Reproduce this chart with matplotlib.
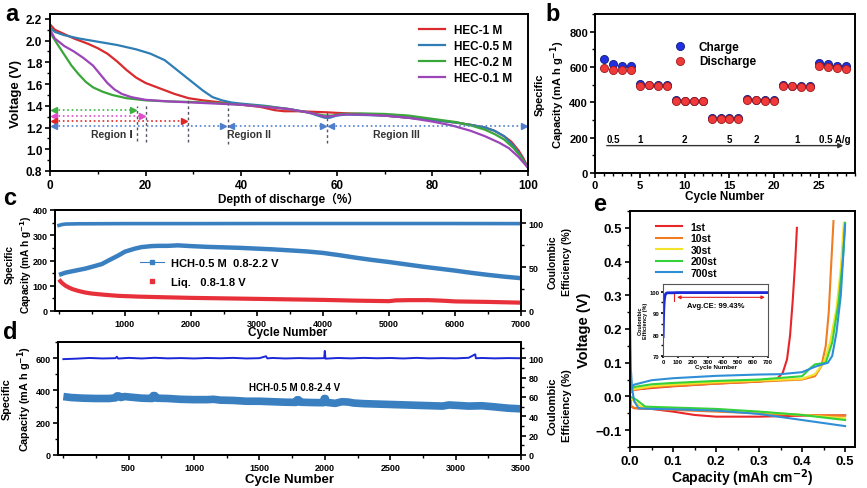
import matplotlib
matplotlib.use("Agg")
import matplotlib.pyplot as plt
from matplotlib.ticker import MultipleLocator

plt.rcParams['font.family'] = ['Liberation Sans', 'DejaVu Sans', 'Noto Sans CJK SC']
plt.rcParams['font.weight'] = 'bold'
plt.rcParams['axes.labelweight'] = 'bold'
plt.rcParams['mathtext.default'] = 'bf'
plt.rcParams['axes.linewidth'] = 1.4
plt.rcParams['xtick.major.width'] = 1.2
plt.rcParams['ytick.major.width'] = 1.2
plt.rcParams['xtick.minor.width'] = 1.0
plt.rcParams['ytick.minor.width'] = 1.0
plt.rcParams['xtick.major.size'] = 3.5
plt.rcParams['ytick.major.size'] = 3.5
plt.rcParams['xtick.minor.size'] = 2
plt.rcParams['ytick.minor.size'] = 2

# ---------------- data: panel a ----------------
a_series = ['HEC-1 M', 'HEC-0.5 M', 'HEC-0.2 M', 'HEC-0.1 M']
a1_x = [0, 1, 3, 5, 8, 10, 12, 14, 16, 18, 20, 23, 26, 29, 32, 36, 40, 44, 47, 49, 52, 55, 58, 60, 65, 70, 75, 80, 85, 88, 91, 93, 95, 96.5, 98, 99, 100]
a1_y = [2.15, 2.1, 2.06, 2.02, 1.97, 1.93, 1.88, 1.81, 1.73, 1.66, 1.61, 1.56, 1.51, 1.47, 1.45, 1.43, 1.41, 1.39, 1.36, 1.35, 1.35, 1.345, 1.34, 1.335, 1.325, 1.31, 1.29, 1.27, 1.245, 1.225, 1.2, 1.17, 1.12, 1.07, 0.99, 0.92, 0.83]
a2_x = [0, 1, 3, 6, 10, 14, 18, 21, 24, 26, 28, 30, 32, 34, 36, 38, 40, 45, 50, 54, 56, 57.5, 58.5, 60, 62, 70, 75, 80, 85, 88, 91, 93, 95, 97, 98.5, 100]
a2_y = [2.12, 2.08, 2.05, 2.02, 1.99, 1.96, 1.92, 1.88, 1.82, 1.75, 1.68, 1.61, 1.54, 1.48, 1.45, 1.43, 1.42, 1.40, 1.37, 1.34, 1.31, 1.29, 1.29, 1.31, 1.32, 1.31, 1.29, 1.27, 1.245, 1.225, 1.2, 1.17, 1.12, 1.03, 0.94, 0.83]
a3_x = [0, 0.5, 1.5, 3, 4.5, 6, 7.5, 9, 11, 13, 16, 20, 25, 30, 35, 40, 45, 50, 55, 57.5, 59, 61, 65, 70, 75, 80, 85, 88, 91, 93, 95, 97, 98.5, 100]
a3_y = [2.08, 2.04, 1.97, 1.87, 1.77, 1.69, 1.62, 1.57, 1.53, 1.5, 1.47, 1.45, 1.44, 1.435, 1.425, 1.41, 1.395, 1.37, 1.33, 1.31, 1.31, 1.325, 1.33, 1.325, 1.31, 1.28, 1.25, 1.22, 1.18, 1.14, 1.09, 1.01, 0.93, 0.83]
a4_x = [0, 1, 3, 5, 7, 9, 10.5, 12, 13.5, 15, 17, 20, 25, 30, 35, 40, 45, 50, 55, 57.5, 59, 61, 65, 70, 75, 80, 84, 88, 91, 94, 96, 98, 100]
a4_y = [2.1, 2.02, 1.95, 1.9, 1.84, 1.77, 1.69, 1.61, 1.55, 1.51, 1.48, 1.455, 1.44, 1.43, 1.42, 1.41, 1.39, 1.37, 1.33, 1.3, 1.305, 1.32, 1.32, 1.31, 1.29, 1.255, 1.22, 1.17, 1.12, 1.06, 1.01, 0.93, 0.83]
a_colors = ['#d92a2e', '#2e7eb5', '#3aa63a', '#9b45b8']
region_bounds = [37, 58]
region_labels = ['Region Ⅰ', 'Region II', 'Region III']

# ---------------- data: panel b ----------------
b_cycle = list(range(1, 29))
b_charge = [645, 618, 605, 603, 503, 500, 498, 497, 415, 410, 410, 410, 310, 310, 312, 312,
            420, 416, 412, 412, 500, 495, 492, 490, 620, 615, 608, 605]
b_discharge = [597, 585, 582, 583, 495, 497, 495, 495, 407, 405, 405, 407, 305, 307, 308, 308,
               415, 413, 410, 410, 493, 490, 488, 487, 607, 600, 595, 590]
b_rates = ['0.5', '1', '2', '5', '2', '1', '0.5 A/g']
b_rate_x = [2, 5, 10, 15, 18, 22.5, 26.8]

# ---------------- data: panel c ----------------
c_hch_x = [1, 100, 250, 400, 500, 650, 750, 900, 1000, 1150, 1250, 1400, 1500, 1650, 1800, 2000, 2250, 2500, 2750, 3000, 3250, 3500, 3750, 4000, 4250, 4500, 4750, 5000, 5250, 5500, 5750, 6000, 6250, 6500, 6750, 7000]
c_hch_y = [143, 152, 160, 168, 175, 186, 200, 220, 235, 247, 253, 257, 258, 258, 260, 257, 254, 252, 250, 247, 244, 240, 236, 230, 221, 211, 202, 194, 185, 176, 168, 160, 151, 143, 136, 130]
c_liq_x = [1, 30, 60, 100, 150, 200, 300, 400, 500, 700, 900, 1200, 1500, 2000, 2500, 3000, 3500, 4000, 4500, 5000, 5100, 5300, 5600, 5800, 6000, 6500, 7000]
c_liq_y = [125, 115, 108, 100, 93, 87, 79, 73, 69, 64, 60, 57, 55, 52, 50, 48, 46, 44, 41, 39, 42, 43, 43, 41, 38, 36, 33]
c_ce_x = [1, 50, 100, 300, 1000, 2000, 3000, 4000, 5000, 6000, 7000]
c_ce_y = [97.5, 98.5, 99.0, 99.3, 99.5, 99.5, 99.6, 99.6, 99.6, 99.6, 99.5]

# ---------------- data: panel d ----------------
d_cap_x = [1, 60, 150, 250, 350, 400, 410, 425, 440, 470, 520, 600, 680, 688, 700, 712, 800, 900, 1000, 1100, 1150, 1200, 1300, 1400, 1500, 1600, 1700, 1780, 1788, 1800, 1812, 1900, 1990, 1996, 2004, 2012, 2080, 2130, 2180, 2220, 2300, 2500, 2700, 2900, 2950, 3100, 3200, 3300, 3400, 3500]
d_cap_y = [362, 356, 352, 350, 350, 354, 366, 366, 356, 362, 358, 352, 350, 368, 368, 352, 350, 345, 343, 343, 345, 340, 338, 333, 333, 330, 327, 326, 342, 342, 327, 325, 324, 350, 350, 326, 320, 330, 328, 322, 318, 313, 308, 303, 310, 303, 305, 298, 290, 286]
d_ce_x = [1, 100, 200, 300, 400, 410, 420, 500, 600, 700, 800, 900, 1000, 1100, 1200, 1300, 1400, 1500, 1550, 1560, 1600, 1700, 1800, 1900, 1995, 2000, 2005, 2100, 2200, 2300, 2400, 2500, 2600, 2700, 2800, 2900, 3000, 3100, 3150, 3155, 3200, 3300, 3400, 3500]
d_ce_y = [99.0, 99.5, 100.2, 99.7, 100.0, 101.5, 99.6, 100.3, 99.7, 100.4, 99.8, 100.1, 99.7, 100.2, 99.9, 100.3, 99.7, 100.0, 102.0, 99.8, 100.2, 99.7, 100.1, 99.8, 100.0, 107.5, 99.5, 100.2, 99.8, 100.3, 99.9, 100.2, 99.7, 100.3, 99.8, 100.1, 99.8, 100.4, 104.0, 99.9, 100.2, 99.8, 100.1, 99.9]

# ---------------- data: panel e ----------------
e_labels = ['1st', '10st', '30st', '200st', '700st']
e_colors = ['#e8262a', '#f07d22', '#f2e22a', '#33d13a', '#2f8fd6']
e_up_x = [
    [0, 0.01, 0.05, 0.1, 0.2, 0.3, 0.34, 0.355, 0.365, 0.372, 0.378, 0.384, 0.388],
    [0, 0.01, 0.05, 0.1, 0.2, 0.3, 0.4, 0.43, 0.445, 0.455, 0.462, 0.468, 0.473],
    [0, 0.01, 0.05, 0.1, 0.2, 0.3, 0.4, 0.43, 0.45, 0.465, 0.48, 0.49, 0.497],
    [0, 0.01, 0.05, 0.1, 0.2, 0.3, 0.4, 0.42, 0.43, 0.455, 0.47, 0.485, 0.495, 0.5],
    [0, 0.01, 0.05, 0.1, 0.2, 0.3, 0.35, 0.4, 0.43, 0.46, 0.47, 0.48, 0.49, 0.5],
]
e_up_y = [
    [0.012, 0.02, 0.025, 0.03, 0.038, 0.044, 0.05, 0.07, 0.11, 0.18, 0.28, 0.4, 0.5],
    [0.015, 0.02, 0.027, 0.031, 0.038, 0.044, 0.05, 0.06, 0.09, 0.15, 0.25, 0.4, 0.52],
    [0.015, 0.022, 0.03, 0.035, 0.042, 0.047, 0.052, 0.066, 0.1, 0.16, 0.26, 0.38, 0.515],
    [0.018, 0.028, 0.036, 0.04, 0.046, 0.05, 0.06, 0.085, 0.095, 0.1, 0.16, 0.28, 0.41, 0.515],
    [0.025, 0.035, 0.048, 0.054, 0.061, 0.065, 0.066, 0.072, 0.088, 0.1, 0.12, 0.19, 0.3, 0.51],
]
e_dn_x = [
    [0, 0.003, 0.01, 0.05, 0.1, 0.15, 0.2, 0.3, 0.4, 0.5],
    [0, 0.003, 0.01, 0.05, 0.1, 0.2, 0.3, 0.4, 0.5],
    [0, 0.01, 0.025, 0.05, 0.1, 0.2, 0.3, 0.4, 0.5],
    [0, 0.015, 0.035, 0.05, 0.1, 0.2, 0.3, 0.4, 0.5],
    [0, 0.002, 0.005, 0.01, 0.02, 0.05, 0.1, 0.2, 0.3, 0.4, 0.5],
]
e_dn_y = [
    [0.0, -0.03, -0.035, -0.037, -0.045, -0.055, -0.06, -0.06, -0.057, -0.056],
    [0.0, -0.03, -0.034, -0.037, -0.04, -0.045, -0.05, -0.055, -0.057],
    [0.0, -0.015, -0.03, -0.033, -0.035, -0.04, -0.046, -0.055, -0.065],
    [0.0, -0.01, -0.03, -0.031, -0.033, -0.037, -0.045, -0.055, -0.07],
    [0.22, 0.08, 0.02, -0.015, -0.035, -0.037, -0.038, -0.042, -0.052, -0.07, -0.088],
]
inset_x = [1, 3, 5, 7, 9, 12, 15, 20, 25, 30, 40, 60, 100, 200, 300, 400, 500, 600, 700]
inset_y = [79, 86, 91, 94, 96, 97.5, 98.5, 99.1, 99.3, 99.4, 99.4, 99.4, 99.5, 99.5, 99.5, 99.5, 99.5, 99.5, 99.5]

# ---------------- figure ----------------
W, H = 867, 489
fig = plt.figure(figsize=(W / 100, H / 100), dpi=100)

def ax_px(l, t, r, b):
    return fig.add_axes([l / W, 1 - b / H, (r - l) / W, (b - t) / H])

def style(ax, fs, pad=2.5):
    ax.tick_params(which='both', direction='out', labelsize=fs, top=False, right=False, pad=pad)
    for lab in ax.get_xticklabels() + ax.get_yticklabels():
        lab.set_fontweight('bold')

def vlabel(text, xc, yc, fs, ls=1.3):
    fig.text(xc / W, 1 - yc / H, text, rotation=90, ha='center', va='center',
             fontsize=fs, fontweight='bold', linespacing=ls)

CAP = 'Specific\nCapacity (mA h g$^{-1}$)'
CE = 'Coulombic\nEfficiency (%)'

# ---- panel a ----
axa = ax_px(50, 15, 528, 172)
for xs, ys, c, lab in zip([a1_x, a2_x, a3_x, a4_x], [a1_y, a2_y, a3_y, a4_y], a_colors, a_series):
    axa.plot(xs, ys, color=c, lw=1.6, label=lab)
axa.set_xlim(0, 100)
axa.set_ylim(0.8, 2.245)
axa.xaxis.set_major_locator(MultipleLocator(20))
axa.xaxis.set_minor_locator(MultipleLocator(10))
axa.yaxis.set_major_locator(MultipleLocator(0.2))
axa.yaxis.set_minor_locator(MultipleLocator(0.1))
style(axa, 8.5, pad=2)
axa.set_ylabel('Voltage (V)', fontsize=9.5, labelpad=3)
axa.set_xlabel('Depth of discharge（%）', fontsize=8.5, labelpad=1,
               family=['Liberation Sans', 'Noto Sans CJK SC'])
leg = axa.legend(loc='upper right', frameon=False, fontsize=8.5, handlelength=2.2,
                 borderaxespad=0.3, labelspacing=0.35, bbox_to_anchor=(0.985, 0.99))
for t in leg.get_texts():
    t.set_fontweight('bold')

arrow_rows = [(1.36, 18.2, '#3cb043'), (1.31, 20, '#e04ccc'), (1.26, 28.9, '#e22424')]
for yv, xe, c in arrow_rows:
    axa.plot([0.8, xe - 0.8], [yv, yv], ls=':', color=c, lw=1.2)
    axa.plot([0.8], [yv], marker='<', color=c, ms=4)
    axa.plot([xe - 0.8], [yv], marker='>', color=c, ms=4)
blue_pts = [0] + region_bounds + [100]
for i in range(len(blue_pts) - 1):
    x0, x1 = blue_pts[i], blue_pts[i + 1]
    axa.plot([x0 + 0.8, x1 - 0.8], [1.21, 1.21], ls=':', color='#4f7fcc', lw=1.2)
    axa.plot([x0 + 0.8], [1.21], marker='<', color='#4f7fcc', ms=4)
    axa.plot([x1 - 0.8], [1.21], marker='>', color='#4f7fcc', ms=4)
for xv, y0, y1 in [(18.2, 1.08, 1.40), (20, 1.07, 1.41), (28.9, 1.07, 1.45), (37.2, 1.05, 1.42), (58, 1.06, 1.36)]:
    axa.plot([xv, xv], [y0, y1], ls=(0, (2, 2)), color='#555566', lw=1.0)
axa.text(13, 1.14, region_labels[0], fontsize=7.5, ha='center', va='center', color='#333333',
         family=['Liberation Sans', 'DejaVu Sans'])
axa.text(41.6, 1.14, region_labels[1], fontsize=7.5, ha='center', va='center', color='#333333')
axa.text(72.5, 1.14, region_labels[2], fontsize=7.5, ha='center', va='center', color='#333333')

# ---- panel b ----
axb = ax_px(595, 15, 855, 174)
axb.scatter(b_cycle, b_charge, s=34, color='#2030e0', edgecolors='#101880', linewidths=0.6, label='Charge', zorder=3)
axb.scatter(b_cycle, b_discharge, s=34, color='#f03a3a', edgecolors='#a01818', linewidths=0.6, label='Discharge', zorder=4)
axb.set_xlim(0, 29)
axb.set_ylim(0, 900)
axb.xaxis.set_major_locator(MultipleLocator(5))
axb.xaxis.set_minor_locator(MultipleLocator(1))
axb.yaxis.set_major_locator(MultipleLocator(200))
axb.yaxis.set_minor_locator(MultipleLocator(100))
style(axb, 8, pad=1.5)
axb.set_xlabel('Cycle Number', fontsize=8.5, labelpad=0)
vlabel(CAP, 551, 95, 8)
legb = axb.legend(loc='upper center', frameon=False, fontsize=8.5, handletextpad=0.6,
                  bbox_to_anchor=(0.45, 0.9), labelspacing=0.25)
for t in legb.get_texts():
    t.set_fontweight('bold')
for lab, xv in zip(b_rates, b_rate_x):
    axb.text(xv, 195, lab, fontsize=7, ha='center', va='center')
axb.annotate('', xy=(28, 155), xytext=(1, 155),
             arrowprops=dict(arrowstyle='-|>', color='#333333', lw=1.0, mutation_scale=7))

# ---- panel c ----
axc = ax_px(55, 211, 521, 312)
axc.plot(c_hch_x, c_hch_y, color='#3a80c0', lw=3.2, solid_capstyle='butt')
axc.plot(c_liq_x, c_liq_y, color='#e8303a', lw=3.0, solid_capstyle='butt')
axc.set_xlim(-60, 7000)
axc.set_ylim(0, 400)
axc.xaxis.set_minor_locator(MultipleLocator(500))
axc.yaxis.set_major_locator(MultipleLocator(100))
axc.yaxis.set_minor_locator(MultipleLocator(50))
axc.set_xticks([1000, 2000, 3000, 4000, 5000, 6000, 7000])
style(axc, 6.5, pad=2)
axc.set_xlabel('Cycle Number', fontsize=8.5, labelpad=-1)
vlabel(CAP, 19, 265, 7.3)
axc2 = axc.twinx()
axc2.plot(c_ce_x, c_ce_y, color='#3a80c0', lw=2.6)
axc2.set_ylim(0, 115)
axc2.yaxis.set_major_locator(MultipleLocator(50))
axc2.yaxis.set_minor_locator(MultipleLocator(25))
axc2.tick_params(which='both', direction='out', labelsize=6.5, pad=2)
for lab in axc2.get_yticklabels():
    lab.set_fontweight('bold')
vlabel(CE, 560, 262, 7.5, ls=1.5)
h1, = axc.plot([], [], color='#3a80c0', lw=0.8, marker='s', ms=2.5)
h2, = axc.plot([], [], color='#e8303a', lw=0, marker='s', ms=2.5)
legc = axc.legend([h1, h2], ['HCH-0.5 M  0.8-2.2 V', 'Liq.   0.8-1.8 V'], loc='center left',
                  bbox_to_anchor=(0.16, 0.38), frameon=False, fontsize=8, handlelength=2.2,
                  handletextpad=0.6, labelspacing=0.8)
for t in legc.get_texts():
    t.set_fontweight('bold')

# ---- panel d ----
axd = ax_px(58, 343, 521, 456)
axd.plot(d_cap_x, d_cap_y, color='#3a80c0', lw=5.5, solid_capstyle='butt', solid_joinstyle='round')
axd.set_xlim(-40, 3500)
axd.set_ylim(0, 700)
axd.set_xticks([500, 1000, 1500, 2000, 2500, 3000, 3500])
axd.xaxis.set_minor_locator(MultipleLocator(250))
axd.yaxis.set_major_locator(MultipleLocator(200))
axd.yaxis.set_minor_locator(MultipleLocator(100))
style(axd, 6.5, pad=2)
axd.set_xlabel('Cycle Number', fontsize=9.5, labelpad=1)
vlabel(CAP, 18, 399, 7.8)
axd.text(0.51, 0.60, 'HCH-0.5 M 0.8-2.4 V', transform=axd.transAxes, fontsize=7,
         ha='center', va='center')
axd2 = axd.twinx()
axd2.plot(d_ce_x, d_ce_y, color='#1a28d8', lw=1.4)
axd2.set_ylim(0, 116.7)
axd2.yaxis.set_major_locator(MultipleLocator(20))
axd2.yaxis.set_minor_locator(MultipleLocator(10))
axd2.tick_params(which='both', direction='out', labelsize=6.5, pad=2)
for lab in axd2.get_yticklabels():
    lab.set_fontweight('bold')
vlabel(CE, 560, 406, 8, ls=1.5)

# ---- panel e ----
axe = ax_px(630, 212, 855, 448)
for i in range(len(e_labels)):
    axe.plot(e_up_x[i], e_up_y[i], color=e_colors[i], lw=1.5, label=e_labels[i])
    axe.plot(e_dn_x[i], e_dn_y[i], color=e_colors[i], lw=1.5)
axe.set_xlim(0, 0.523)
axe.set_ylim(-0.15, 0.55)
axe.xaxis.set_major_locator(MultipleLocator(0.1))
axe.xaxis.set_minor_locator(MultipleLocator(0.05))
axe.yaxis.set_major_locator(MultipleLocator(0.1))
axe.yaxis.set_minor_locator(MultipleLocator(0.05))
style(axe, 9.5, pad=2.5)
axe.set_xlabel('Capacity (mAh cm$^{-2}$)', fontsize=10, labelpad=-0.5)
axe.set_ylabel('Voltage (V)', fontsize=10.5, labelpad=3)
lege = axe.legend(loc='upper left', frameon=False, fontsize=7.5, handlelength=2.5,
                  labelspacing=0.15, borderaxespad=0.4, bbox_to_anchor=(0.08, 0.99))
for t in lege.get_texts():
    t.set_fontweight('bold')

axi = ax_px(663, 285, 768, 357)
axi.plot(inset_x, inset_y, color='#1a28d8', lw=2.0)
axi.set_xlim(0, 700)
axi.set_ylim(70, 103.5)
axi.xaxis.set_major_locator(MultipleLocator(100))
axi.yaxis.set_major_locator(MultipleLocator(10))
axi.yaxis.set_minor_locator(MultipleLocator(5))
axi.tick_params(which='both', direction='out', labelsize=4.2, length=1.5, pad=1)
for sp in axi.spines.values():
    sp.set_linewidth(0.8)
    sp.set_color('#555555')
axi.set_xlabel('Cycle Number', fontsize=4.5, labelpad=0)
axi.set_ylabel(CE, fontsize=4, labelpad=1, linespacing=1.1)
axi.annotate('', xy=(698, 97.3), xytext=(75, 97.3),
             arrowprops=dict(arrowstyle='<|-|>', color='#e02020', lw=0.8, mutation_scale=5))
axi.plot([75, 75], [95.5, 99], color='#e02020', lw=0.8)
axi.text(350, 93.5, 'Avg.CE: 99.43%', fontsize=5.5, ha='center', va='center')

# panel letters
for lab, x, y in [('a', 5, 3), ('b', 545, 3), ('c', 3, 187), ('d', 3, 321), ('e', 593, 193)]:
    fig.text(x / W, 1 - y / H, lab, fontsize=17, fontweight='bold', va='top', ha='left')

fig.savefig('out.png', dpi=100)
